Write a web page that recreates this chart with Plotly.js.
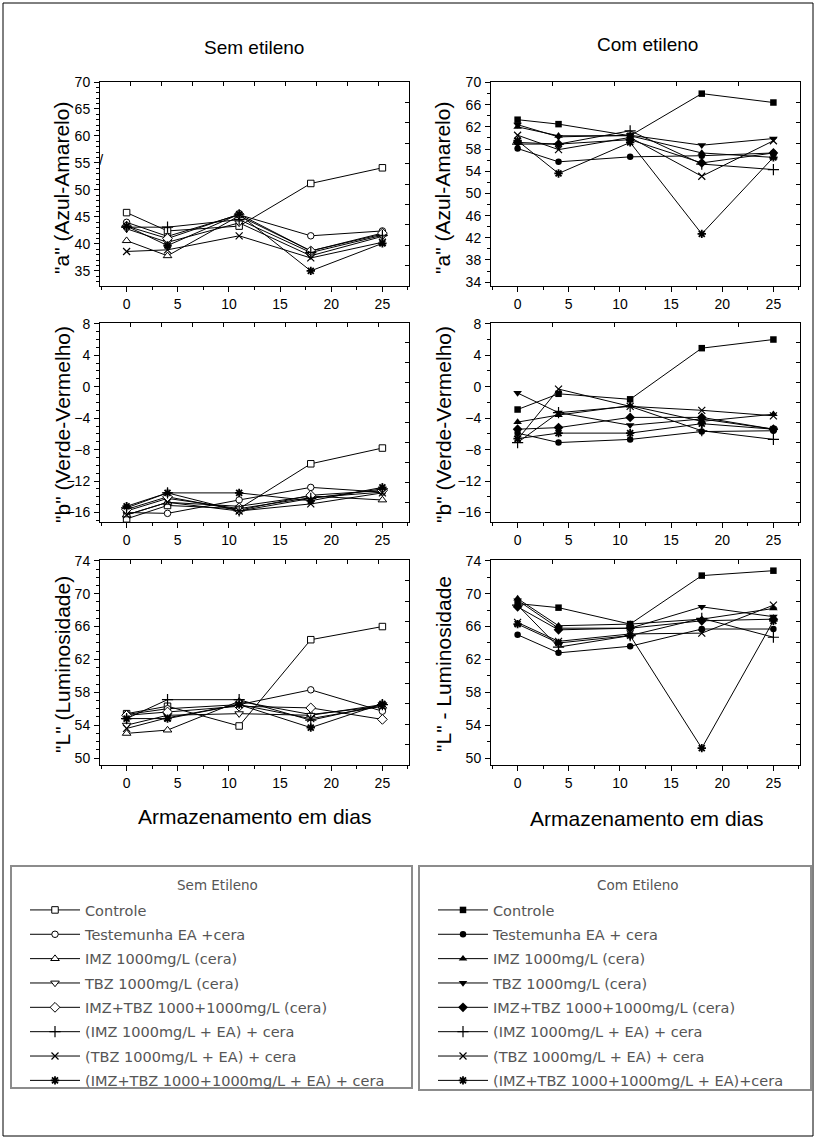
<!DOCTYPE html>
<html>
<head>
<meta charset="utf-8">
<script src="https://cdn.plot.ly/plotly-3.0.1.min.js"></script>
<style>html,body{margin:0;padding:0;background:#fff;}#chart{width:816px;height:1139px;}</style>
</head>
<body>
<div id="chart"></div>
<script>
// ---------------- DATA ----------------
const days = [0, 4, 11, 18, 25];

const namesSem = [
  "Controle",
  "Testemunha EA +cera",
  "IMZ 1000mg/L (cera)",
  "TBZ 1000mg/L (cera)",
  "IMZ+TBZ 1000+1000mg/L (cera)",
  "(IMZ 1000mg/L + EA) + cera",
  "(TBZ 1000mg/L + EA) + cera",
  "(IMZ+TBZ 1000+1000mg/L + EA) + cera"
];
const namesCom = [
  "Controle",
  "Testemunha EA + cera",
  "IMZ 1000mg/L (cera)",
  "TBZ 1000mg/L (cera)",
  "IMZ+TBZ 1000+1000mg/L (cera)",
  "(IMZ 1000mg/L + EA) + cera",
  "(TBZ 1000mg/L + EA) + cera",
  "(IMZ+TBZ 1000+1000mg/L + EA)+cera"
];

// "a" (Azul-Amarelo) - Sem etileno
const aSem = [
  [45.8, 42.4, 43.3, 51.2, 54.1],
  [44.0, 41.4, 45.4, 41.5, 42.4],
  [40.6, 37.8, 45.2, 38.7, 41.8],
  [42.8, 40.3, 43.9, 37.8, 41.4],
  [43.3, 41.0, 45.5, 38.7, 42.0],
  [43.1, 43.1, 44.5, 38.4, 41.6],
  [38.6, 38.9, 41.5, 37.4, 40.3],
  [43.3, 39.7, 45.5, 35.0, 40.1]
];
// "a" (Azul-Amarelo) - Com etileno
const aCom = [
  [63.3, 62.5, 60.4, 68.0, 66.4],
  [58.1, 55.7, 56.6, 56.8, 57.3],
  [62.0, 60.4, 60.4, 57.3, 56.5],
  [62.4, 60.2, 60.5, 58.7, 59.9],
  [59.2, 58.9, 59.7, 55.5, 57.3],
  [58.9, 58.9, 61.3, 55.3, 54.3],
  [60.5, 57.9, 60.1, 53.1, 59.5],
  [59.5, 53.6, 59.2, 42.7, 56.5]
];
// "b" (Verde-Vermelho) - Sem etileno
const bSem = [
  [-16.8, -15.1, -15.5, -9.8, -7.8],
  [-16.0, -16.1, -14.4, -12.8, -13.4],
  [-16.3, -14.7, -15.2, -13.9, -14.4],
  [-15.8, -14.2, -15.5, -14.1, -13.4],
  [-15.6, -14.0, -15.7, -13.8, -13.2],
  [-15.4, -13.5, -15.8, -14.2, -13.0],
  [-16.3, -14.7, -15.8, -14.9, -13.5],
  [-15.2, -13.5, -13.5, -14.5, -12.8]
];
// "b" (Verde-Vermelho) - Com etileno
const bCom = [
  [-2.9, -0.9, -1.6, 4.9, 6.0],
  [-5.9, -7.1, -6.7, -5.7, -5.6],
  [-4.5, -3.6, -2.4, -4.4, -3.5],
  [-0.8, -3.3, -4.9, -4.1, -5.4],
  [-5.4, -5.2, -3.9, -3.9, -5.4],
  [-7.1, -3.3, -2.5, -5.6, -6.7],
  [-6.7, -0.3, -2.5, -3.0, -3.7],
  [-6.6, -5.9, -5.9, -4.7, -5.4]
];
// "L" (Luminosidade) - Sem etileno
const LSem = [
  [55.4, 56.3, 53.9, 64.4, 66.0],
  [55.3, 56.0, 56.5, 58.3, 55.7],
  [53.0, 53.4, 56.9, 55.3, 56.3],
  [54.0, 55.2, 55.4, 55.2, 56.5],
  [55.2, 55.6, 56.3, 56.1, 54.7],
  [54.8, 57.1, 57.1, 54.6, 56.5],
  [53.6, 54.9, 56.5, 54.8, 56.3],
  [54.8, 54.8, 56.5, 53.7, 56.6]
];
// "L" - Luminosidade - Com etileno
const LCom = [
  [68.8, 68.3, 66.3, 72.2, 72.8],
  [65.0, 62.8, 63.6, 65.7, 65.7],
  [69.4, 66.1, 66.3, 66.9, 68.2],
  [69.2, 65.8, 65.8, 68.4, 67.2],
  [68.4, 65.6, 65.8, 66.7, 66.9],
  [68.6, 63.5, 64.9, 67.0, 64.7],
  [66.5, 64.2, 65.1, 65.2, 68.6],
  [66.3, 64.0, 64.9, 51.2, 66.7]
];

// ---------------- STYLE ----------------
const W = 816, H = 1139;
const FONT = "Liberation Sans, Arial, sans-serif";
const LFONT = "DejaVu Sans, Liberation Sans, sans-serif";
const px = v => v / W;
const py = v => 1 - v / H;

const markSem = [
  {symbol: 'square', color: 'white', size: 6.5, line: {color: 'black', width: 1}},
  {symbol: 'circle', color: 'white', size: 6.5, line: {color: 'black', width: 1}},
  {symbol: 'triangle-up', color: 'white', size: 7.5, line: {color: 'black', width: 1}},
  {symbol: 'triangle-down', color: 'white', size: 7.5, line: {color: 'black', width: 1}},
  {symbol: 'diamond', color: 'white', size: 7.5, line: {color: 'black', width: 1}},
  {symbol: 'cross-thin-open', color: 'black', size: 8, line: {color: 'black', width: 1.2}},
  {symbol: 'x-thin-open', color: 'black', size: 7, line: {color: 'black', width: 1.2}},
  {symbol: 'asterisk-open', color: 'black', size: 7, line: {color: 'black', width: 1.8}}
];
const markCom = [
  {symbol: 'square', color: 'black', size: 6.5, line: {width: 0}},
  {symbol: 'circle', color: 'black', size: 6.5, line: {width: 0}},
  {symbol: 'triangle-up', color: 'black', size: 7.5, line: {width: 0}},
  {symbol: 'triangle-down', color: 'black', size: 7.5, line: {width: 0}},
  {symbol: 'diamond', color: 'black', size: 7.5, line: {width: 0}},
  {symbol: 'cross-thin-open', color: 'black', size: 8, line: {color: 'black', width: 1.2}},
  {symbol: 'x-thin-open', color: 'black', size: 7, line: {color: 'black', width: 1.2}},
  {symbol: 'asterisk-open', color: 'black', size: 7, line: {color: 'black', width: 1.8}}
];

const colL = [100, 409], colR = [491, 800];
const row1 = [82, 286], row2 = [323, 522], row3 = [560, 765];
const panels = [
  {d: aSem, n: namesSem, m: markSem, cx: colL, cy: row1, yr: [32.2, 70.0], t0: 35, dt: 5, mn: 1, left: true, lg: 'legend'},
  {d: aCom, n: namesCom, m: markCom, cx: colR, cy: row1, yr: [33.3, 70.1], t0: 34, dt: 4, mn: 2, left: false, lg: 'legend2'},
  {d: bSem, n: namesSem, m: markSem, cx: colL, cy: row2, yr: [-17.2, 8.1], t0: 0, dt: 4, mn: 1, left: true, lg: null},
  {d: bCom, n: namesCom, m: markCom, cx: colR, cy: row2, yr: [-17.2, 8.1], t0: 0, dt: 4, mn: 2, left: false, lg: null},
  {d: LSem, n: namesSem, m: markSem, cx: colL, cy: row3, yr: [49.15, 74.1], t0: 50, dt: 4, mn: 1, left: true, lg: null},
  {d: LCom, n: namesCom, m: markCom, cx: colR, cy: row3, yr: [49.15, 74.1], t0: 50, dt: 4, mn: 2, left: false, lg: null}
];

const traces = [];
const layout = {
  width: W, height: H,
  margin: {l: 0, r: 0, t: 0, b: 0},
  paper_bgcolor: 'white', plot_bgcolor: 'white',
  font: {family: FONT, size: 14, color: 'black'},
  showlegend: true,
  annotations: [], shapes: []
};

panels.forEach((p, k) => {
  const i = k + 1, o = k + 7;
  const xa = 'x' + i, ya = 'y' + i;
  p.d.forEach((vals, s) => {
    const tr = {
      type: 'scatter', mode: 'lines+markers',
      x: days, y: vals, name: p.n[s],
      xaxis: xa, yaxis: ya,
      line: {color: 'black', width: 1},
      marker: p.m[s],
      showlegend: !!p.lg,
      legendgroup: (p.left ? 's' : 'c') + s,
      hoverinfo: 'x+y+name'
    };
    if (p.lg) tr.legend = p.lg;
    traces.push(tr);
  });
  traces.push({type: 'scatter', x: [], y: [], xaxis: 'x' + o, yaxis: ya, showlegend: false, hoverinfo: 'skip'});
  traces.push({type: 'scatter', x: [], y: [], xaxis: xa, yaxis: 'y' + o, showlegend: false, hoverinfo: 'skip'});

  layout['xaxis' + i] = {
    domain: [px(p.cx[0]), px(p.cx[1])], anchor: ya,
    range: [-2.6, 27.6], tick0: 0, dtick: 5,
    ticks: 'outside', ticklen: 5, tickwidth: 1, tickcolor: 'black',
    minor: {dtick: 2.5, tick0: 0, ticks: 'outside', ticklen: 3, tickcolor: 'black'},
    showline: true, linecolor: 'black', linewidth: 1, mirror: true,
    showgrid: false, zeroline: false,
    tickfont: {family: FONT, size: 14, color: 'black'}
  };
  layout['yaxis' + i] = {
    domain: [py(p.cy[1]), py(p.cy[0])], anchor: xa,
    range: p.yr, tick0: p.t0, dtick: p.dt,
    ticks: 'outside', ticklen: 5, tickwidth: 1, tickcolor: 'black',
    minor: {dtick: p.mn, tick0: p.t0, ticks: 'outside', ticklen: 3, tickcolor: 'black'},
    showline: true, linecolor: 'black', linewidth: 1, mirror: true,
    showgrid: false, zeroline: false, ticklabelstandoff: 1,
    tickfont: {family: FONT, size: 14, color: 'black'}
  };
  layout['xaxis' + o] = {
    overlaying: xa, anchor: ya, side: 'top', range: [0, 10],
    tickvals: p.left ? [1, 2, 3, 4, 5, 6, 7, 8, 9] : [2, 4, 6, 8],
    ticks: 'inside', ticklen: 4, tickcolor: 'black', showticklabels: false,
    showline: false, showgrid: false, zeroline: false
  };
  layout['yaxis' + o] = {
    overlaying: ya, anchor: xa, side: 'right', range: [0, 10],
    tickvals: [1, 2, 3, 4, 5, 6, 7, 8, 9],
    ticks: 'inside', ticklen: 4, tickcolor: 'black', showticklabels: false,
    showline: false, showgrid: false, zeroline: false
  };
});

const legendCommon = {
  xanchor: 'left', yanchor: 'top', bgcolor: 'rgba(0,0,0,0)', borderwidth: 0,
  font: {family: LFONT, size: 14.5, color: '#555'},
  itemwidth: 50,
  traceorder: 'grouped', tracegroupgap: 2.5, itemclick: false, itemdoubleclick: false
};
layout.legend = Object.assign({}, legendCommon, {x: px(25), y: py(894)});
layout.legend2 = Object.assign({}, legendCommon, {x: px(433), y: py(894)});

function ann(text, x, y, size, opts) {
  layout.annotations.push(Object.assign({
    text: text, x: px(x), y: py(y), xref: 'paper', yref: 'paper',
    xanchor: 'center', yanchor: 'middle', showarrow: false,
    font: {family: FONT, size: size, color: 'black'}
  }, opts || {}));
}
ann('Sem etileno', 254, 47, 19);
ann('Com etileno', 647, 44, 19);
ann('"a" (Azul-Amarelo)', 62, 188, 21, {textangle: -90});
ann('"b" (Verde-Vermelho)', 62, 424, 21, {textangle: -90});
ann('"L" (Luminosidade)', 62, 664, 21, {textangle: -90});
ann('"a" (Azul-Amarelo)', 443, 188, 21, {textangle: -90});
ann('"b" (Verde-Vermelho)', 443, 424, 21, {textangle: -90});
ann('"L" - Luminosidade', 443, 664, 21, {textangle: -90});
ann('Armazenamento em dias', 254, 816, 21);
ann('Armazenamento em dias', 646, 818, 21);
ann('Sem Etileno', 217, 885, 13.5, {font: {family: LFONT, size: 13.5, color: '#555'}});
ann('Com Etileno', 638, 885, 13.5, {font: {family: LFONT, size: 13.5, color: '#555'}});
ann('/', 101, 160, 15);

function rect(x0, y0, x1, y1, color, w) {
  layout.shapes.push({type: 'rect', xref: 'paper', yref: 'paper',
    x0: px(x0), x1: px(x1), y0: py(y1), y1: py(y0),
    line: {color: color, width: w}, fillcolor: 'rgba(0,0,0,0)', layer: 'below'});
}
rect(3, 3, 813, 1136, 'black', 1);
rect(11, 866, 412, 1088, '#8c8c8c', 2);
rect(419, 866, 811, 1090, '#8c8c8c', 2);

Plotly.newPlot('chart', traces, layout, {staticPlot: true, displayModeBar: false});
</script>
</body>
</html>
